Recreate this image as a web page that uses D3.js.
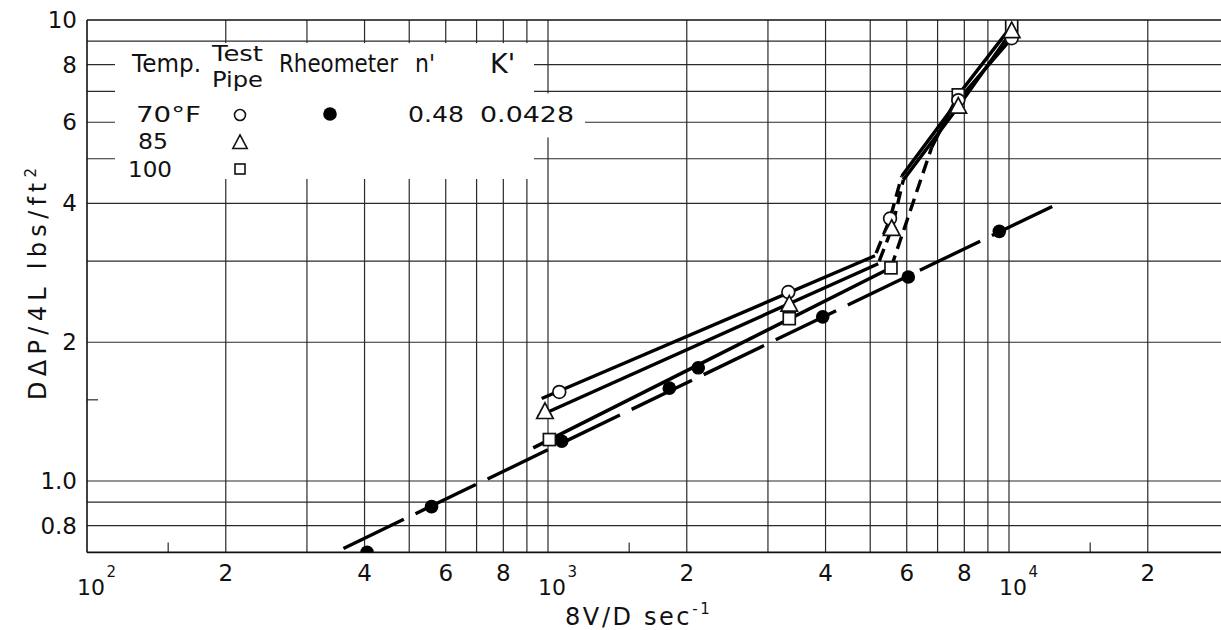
<!DOCTYPE html>
<html>
<head>
<meta charset="utf-8">
<script src="https://cdnjs.cloudflare.com/ajax/libs/d3/7.8.5/d3.min.js"></script>
<style>
    body { margin: 0; background: #fff; }
    svg { display: block; }
    text { font-family: "DejaVu Sans", sans-serif; fill: #111; }
</style>
</head>
<body>
<div id="chart"></div>
<script>
// Test pipe points (8V/D, D dP/4L) for each temperature
var pipeX70 = [1058, 3321, 5520, 7762, 10136];
var pipeY70 = [1.56, 2.57, 3.71, 6.70, 9.13];
var pipeX85 = [985, 3337, 5566, 7762, 10136];
var pipeY85 = [1.41, 2.41, 3.52, 6.48, 9.45];
var pipeX100 = [1007, 3337, 5546, 7762, 10136];
var pipeY100 = [1.23, 2.25, 2.90, 6.88, 9.71];

// Rheometer points
var rheoX = [405, 559, 1071, 1833, 2118, 3944, 6047, 9528];
var rheoY = [0.70, 0.88, 1.22, 1.59, 1.76, 2.27, 2.77, 3.48];

// Drawn lines as [8V/D, value]
var lam70 = [[969, 1.51], [5120, 3.08]];
var dash70 = [[5150, 3.12], [5520, 3.71], [5850, 4.58]];
var turb70 = [[5850, 4.58], [7762, 6.70], [10136, 9.13]];
var lam85 = [[951, 1.38], [5204, 2.96]];
var dash85 = [[5230, 3.00], [5566, 3.52], [5900, 4.50]];
var turb85 = [[5900, 4.50], [7762, 6.48], [10136, 9.45]];
var lam100 = [[929, 1.18], [5546, 2.90]];
var dash100 = [[5546, 2.90], [6800, 5.30]];
var turb100 = [[6800, 5.30], [7762, 6.88], [10136, 9.71]];
var rheoLine = [[360, 0.714], [12600, 3.97]];

// Axis ticks and grid
var xDigitTicks = [200, 400, 600, 800, 2000, 4000, 6000, 8000, 20000];
var xDecadeTicks = [100, 1000, 10000];
var xGrid = [200, 300, 400, 500, 600, 700, 800, 900, 1000, 2000, 3000, 4000, 5000, 6000, 7000, 8000, 9000, 10000, 20000];
var xStubs = [150, 1500, 15000];
var yTicks = [10, 8, 6, 4, 2, 1.0, 0.8];
var yTickLabels = ["10", "8", "6", "4", "2", "1.0", "0.8"];
var yGrid = [0.8, 0.9, 1, 2, 3, 4, 5, 6, 7, 8, 9];
var yStubs = [1.5];

var legendTemps = ["70°F", "85", "100"];
var legendN = "0.48";
var legendK = "0.0428";

function init() {
    var w = 1221, h = 630;
    var decade = 461; // pixels per decade, both axes
    var left = 87, top = 20;

    var x = d3.scaleLog()
        .domain([100, 30000])
        .range([left, left + decade * Math.log10(300)]);
    var y = d3.scaleLog()
        .domain([0.7, 10])
        .range([top + decade * Math.log10(10 / 0.7), top]);

    var svg = d3.select("#chart").append("svg")
        .attr("width", w)
        .attr("height", h);

    var bottom = y(0.7);

    svg.append("clipPath").attr("id", "plot")
        .append("rect")
        .attr("x", left).attr("y", top)
        .attr("width", w - left).attr("height", bottom - top);

    // grid
    var grid = svg.append("g").attr("stroke", "#2a2a2a").attr("stroke-width", 1.2);
    grid.selectAll(".vg").data(xGrid).enter().append("line")
        .attr("x1", function(d) { return x(d); })
        .attr("x2", function(d) { return x(d); })
        .attr("y1", top).attr("y2", bottom);
    grid.selectAll(".hg").data(yGrid).enter().append("line")
        .attr("x1", left).attr("x2", w)
        .attr("y1", function(d) { return y(d); })
        .attr("y2", function(d) { return y(d); });
    grid.selectAll(".xs").data(xStubs).enter().append("line")
        .attr("x1", function(d) { return x(d); })
        .attr("x2", function(d) { return x(d); })
        .attr("y1", bottom - 10).attr("y2", bottom);
    grid.selectAll(".ys").data(yStubs).enter().append("line")
        .attr("x1", left).attr("x2", left + 11)
        .attr("y1", function(d) { return y(d); })
        .attr("y2", function(d) { return y(d); });

    // white area behind the legend block
    svg.append("rect").attr("x", 115).attr("y", y(9) + 2)
        .attr("width", 419).attr("height", 179 - y(9) - 2).attr("fill", "#fff");
    svg.append("rect").attr("x", 533).attr("y", y(7) + 2)
        .attr("width", 52).attr("height", 44).attr("fill", "#fff");

    // frame
    var frame = svg.append("g").attr("stroke", "#111").attr("stroke-width", 1.6);
    frame.append("line").attr("x1", left).attr("x2", left).attr("y1", top).attr("y2", bottom);
    frame.append("line").attr("x1", left).attr("x2", w).attr("y1", bottom).attr("y2", bottom);
    frame.append("line").attr("x1", left).attr("x2", w).attr("y1", top).attr("y2", top);

    // tick labels
    svg.selectAll(".yl").data(yTicks).enter().append("text")
        .attr("x", 77)
        .attr("y", function(d) { return y(d) + 8; })
        .attr("text-anchor", "end")
        .attr("font-size", 23)
        .text(function(d, i) { return yTickLabels[i]; });

    svg.selectAll(".xl").data(xDigitTicks).enter().append("text")
        .attr("x", function(d) { return x(d); })
        .attr("y", 581)
        .attr("text-anchor", "middle")
        .attr("font-size", 23)
        .text(function(d) { return String(d).charAt(0); });

    // decade labels: "10" with the exponent raised, in one text element
    var dec = svg.selectAll(".xd").data(xDecadeTicks).enter().append("text")
        .attr("x", function(d) { return x(d) - 10; })
        .attr("y", 595)
        .attr("font-family", "Liberation Sans, sans-serif");
    dec.append("tspan")
        .attr("font-size", 22)
        .text("10");
    dec.append("tspan")
        .attr("dx", 1.5)
        .attr("dy", -18)
        .attr("font-size", 15)
        .text(function(d) { return Math.round(Math.log10(d)); });

    // axis titles
    var xt = svg.append("text")
        .attr("x", 565).attr("y", 625)
        .attr("font-size", 24)
        .attr("letter-spacing", 2.6);
    xt.append("tspan").text("8V/D sec");
    xt.append("tspan").attr("dy", -11).attr("font-size", 15).text("-1");

    var yt = svg.append("text")
        .attr("transform", "translate(46,400) rotate(-90)")
        .attr("font-size", 24)
        .attr("letter-spacing", 5.3);
    yt.append("tspan").text("D\u0394P/4L  lbs/ft");
    yt.append("tspan").attr("dy", -10).attr("font-size", 15).text("2");

    // legend
    var lg = svg.append("g").attr("font-size", 24);
    var heads = [
        { t: "Temp.", x: 132, y: 72, w: 69, s: 24 },
        { t: "Test", x: 212, y: 61, w: 51, s: 21 },
        { t: "Pipe", x: 212, y: 87, w: 51, s: 21 },
        { t: "Rheometer", x: 279, y: 72, w: 119, s: 24 },
        { t: "n'", x: 415, y: 72, w: 20, s: 24 }
    ];
    lg.selectAll(".hd").data(heads).enter().append("text")
        .attr("x", function(d) { return d.x; })
        .attr("y", function(d) { return d.y; })
        .attr("font-size", function(d) { return d.s; })
        .attr("textLength", function(d) { return d.w; })
        .attr("lengthAdjust", "spacingAndGlyphs")
        .text(function(d) { return d.t; });
    lg.append("text").attr("x", 490).attr("y", 73)
        .attr("font-family", "Liberation Serif, serif").attr("font-size", 27).text("K'");

    var rows = [122, 149, 177];
    var rowStart = [136, 138, 128];
    var rowWidth = [65, 30, 44];
    lg.selectAll(".lt").data(legendTemps).enter().append("text")
        .attr("x", function(d, i) { return rowStart[i]; })
        .attr("y", function(d, i) { return rows[i]; })
        .attr("font-size", 22)
        .attr("textLength", function(d, i) { return rowWidth[i]; })
        .attr("lengthAdjust", "spacingAndGlyphs")
        .text(function(d) { return d; });
    lg.append("text").attr("x", 408).attr("y", 122).attr("font-size", 22)
        .attr("textLength", 56).attr("lengthAdjust", "spacingAndGlyphs").text(legendN);
    lg.append("text").attr("x", 480).attr("y", 122).attr("font-size", 22)
        .attr("textLength", 94).attr("lengthAdjust", "spacingAndGlyphs").text(legendK);

    // marker shapes
    var tri = function(s) { return "M0," + (-s * 0.62) + "L" + (s * 0.55) + "," + (s * 0.42) + "L" + (-s * 0.55) + "," + (s * 0.42) + "Z"; };

    lg.append("circle").attr("cx", 240).attr("cy", 115).attr("r", 5.5)
        .attr("fill", "#fff").attr("stroke", "#111").attr("stroke-width", 1.6);
    lg.append("path").attr("transform", "translate(240,143)").attr("d", tri(13))
        .attr("fill", "#fff").attr("stroke", "#111").attr("stroke-width", 1.6);
    lg.append("rect").attr("x", 235).attr("y", 164).attr("width", 10).attr("height", 10)
        .attr("fill", "#fff").attr("stroke", "#111").attr("stroke-width", 1.6);
    lg.append("circle").attr("cx", 330).attr("cy", 114).attr("r", 6.8).attr("fill", "#000");

    // lines
    var plot = svg.append("g").attr("clip-path", "url(#plot)");
    var line = d3.line()
        .x(function(d) { return x(d[0]); })
        .y(function(d) { return y(d[1]); });

    var solids = [lam70, turb70, lam85, turb85, lam100, turb100];
    plot.selectAll(".solid").data(solids).enter().append("path")
        .attr("d", line)
        .attr("fill", "none").attr("stroke", "#000").attr("stroke-width", 3.4);

    var dashes = [dash70, dash85, dash100];
    plot.selectAll(".dash").data(dashes).enter().append("path")
        .attr("d", line)
        .attr("fill", "none").attr("stroke", "#000").attr("stroke-width", 3.4)
        .attr("stroke-dasharray", "13,7");

    plot.append("path").datum(rheoLine)
        .attr("d", line)
        .attr("fill", "none").attr("stroke", "#000").attr("stroke-width", 3.4)
        .attr("stroke-dasharray", "67,13");

    // markers
    plot.selectAll(".rh").data(rheoX).enter().append("circle")
        .attr("cx", function(d) { return x(d); })
        .attr("cy", function(d, i) { return y(rheoY[i]); })
        .attr("r", 6.8).attr("fill", "#000");

    plot.selectAll(".sq").data(pipeX100).enter().append("rect")
        .attr("x", function(d) { return x(d) - 6; })
        .attr("y", function(d, i) { return y(pipeY100[i]) - 6; })
        .attr("width", 12).attr("height", 12)
        .attr("fill", "#fff").attr("stroke", "#111").attr("stroke-width", 1.7);

    plot.selectAll(".ci").data(pipeX70).enter().append("circle")
        .attr("cx", function(d) { return x(d); })
        .attr("cy", function(d, i) { return y(pipeY70[i]); })
        .attr("r", 6.4)
        .attr("fill", "#fff").attr("stroke", "#111").attr("stroke-width", 1.7);

    plot.selectAll(".tr").data(pipeX85).enter().append("path")
        .attr("transform", function(d, i) { return "translate(" + x(d) + "," + y(pipeY85[i]) + ")"; })
        .attr("d", tri(15))
        .attr("fill", "#fff").attr("stroke", "#111").attr("stroke-width", 1.7);
}

window.onload = init;
</script>
</body>
</html>
